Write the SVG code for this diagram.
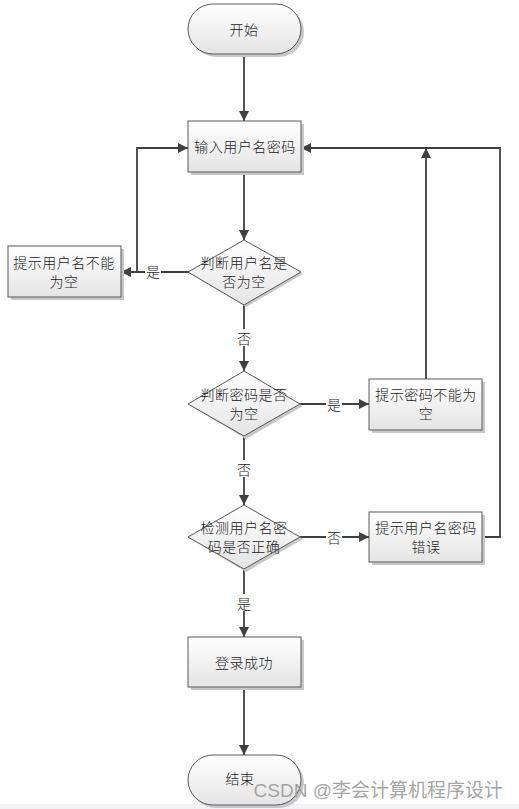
<svg xmlns="http://www.w3.org/2000/svg" width="519" height="809" viewBox="0 0 519 809">
<defs>
<linearGradient id="g" x1="0" y1="0" x2="0" y2="1">
<stop offset="0" stop-color="#ffffff"/>
<stop offset="1" stop-color="#e4e4e4"/>
</linearGradient>
<marker id="ah" viewBox="0 0 10 10" refX="10" refY="5" markerWidth="10" markerHeight="10" markerUnits="userSpaceOnUse" orient="auto">
<path d="M0,0 L10,5 L0,10 z" fill="#404040"/>
</marker>
</defs>
<style>
.shape{fill:url(#g);stroke:#5a5a5a;stroke-width:1}
.shadow{fill:#c8c8c8;stroke:none}
.t{font-family:"Noto Sans CJK SC","Liberation Sans",sans-serif;font-size:14px;font-weight:300;letter-spacing:0.5px;fill:#222;text-anchor:middle;dominant-baseline:central}
.c{fill:none;stroke:#404040;stroke-width:1.8;marker-end:url(#ah)}
.lbl{font-family:"Noto Sans CJK SC","Liberation Sans",sans-serif;font-size:14px;font-weight:300;fill:#222;text-anchor:middle;dominant-baseline:central}
.lblbg{fill:#ffffff}
</style>
<rect width="519" height="809" fill="#ffffff"/>
<rect x="0" y="804" width="519" height="5" fill="#f2f2f4"/>
<g id="connectors">
<path class="c" d="M244,54 V121"/>
<path class="c" d="M244,172 V240"/>
<path class="c" d="M188,272 H121"/>
<path class="c" d="M137,272 V148 H188"/>
<path class="c" d="M244,305 V371"/>
<path class="c" d="M300,404 H369"/>
<path class="c" d="M426,379 V148"/>
<path class="c" d="M244,436 V505"/>
<path class="c" d="M300,537 H369"/>
<path class="c" d="M482,537 H500 V148 H301"/>
<path class="c" d="M244,569 V637"/>
<path class="c" d="M244,687 V755"/>
<rect class="lblbg" x="145" y="263" width="16" height="17"/>
<text class="lbl" x="153" y="271">是</text>
<rect class="lblbg" x="236" y="329" width="16" height="17"/>
<text class="lbl" x="244" y="338">否</text>
<rect class="lblbg" x="326" y="395" width="16" height="17"/>
<text class="lbl" x="334" y="404">是</text>
<rect class="lblbg" x="236" y="460" width="16" height="17"/>
<text class="lbl" x="244" y="469">否</text>
<rect class="lblbg" x="326" y="528" width="16" height="17"/>
<text class="lbl" x="334" y="537">否</text>
<rect class="lblbg" x="236" y="594" width="16" height="17"/>
<text class="lbl" x="244" y="603">是</text>
</g>
<g id="start">
<rect class="shadow" x="191" y="7" width="113" height="50" rx="25"/>
<rect class="shape" x="188" y="4" width="113" height="50" rx="25"/>
<text class="t" x="244" y="29">开始</text>
</g>
<g id="input">
<rect class="shadow" x="191" y="124" width="113" height="51"/>
<rect class="shape" x="188" y="121" width="113" height="51"/>
<text class="t" x="245" y="146">输入用户名密码</text>
</g>
<g id="check-user">
<polygon class="shadow" points="246,243 303,274 246,307 191,274"/>
<polygon class="shape" points="244,240 301,272 244,305 188,272"/>
<text class="t" x="244" y="262">判断用户名是</text>
<text class="t" x="244" y="281">否为空</text>
</g>
<g id="user-empty">
<rect class="shadow" x="11" y="249" width="113" height="51"/>
<rect class="shape" x="8" y="246" width="113" height="51"/>
<text class="t" x="64" y="262">提示用户名不能</text>
<text class="t" x="64" y="281">为空</text>
</g>
<g id="check-pwd">
<polygon class="shadow" points="246,374 303,406 246,439 191,406"/>
<polygon class="shape" points="244,371 300,404 244,436 188,404"/>
<text class="t" x="244" y="394">判断密码是否</text>
<text class="t" x="244" y="413">为空</text>
</g>
<g id="pwd-empty">
<rect class="shadow" x="372" y="382" width="113" height="51"/>
<rect class="shape" x="369" y="379" width="113" height="51"/>
<text class="t" x="426" y="394">提示密码不能为</text>
<text class="t" x="426" y="413">空</text>
</g>
<g id="verify">
<polygon class="shadow" points="246,508 303,539 246,572 191,539"/>
<polygon class="shape" points="244,505 300,537 244,569 188,537"/>
<text class="t" x="244" y="527">检测用户名密</text>
<text class="t" x="244" y="546">码是否正确</text>
</g>
<g id="wrong">
<rect class="shadow" x="372" y="515" width="113" height="50"/>
<rect class="shape" x="369" y="512" width="113" height="50"/>
<text class="t" x="426" y="527">提示用户名密码</text>
<text class="t" x="426" y="546">错误</text>
</g>
<g id="success">
<rect class="shadow" x="191" y="640" width="113" height="50"/>
<rect class="shape" x="188" y="637" width="113" height="50"/>
<text class="t" x="244" y="662">登录成功</text>
</g>
<g id="end">
<rect class="shadow" x="191" y="758" width="113" height="50" rx="25"/>
<rect class="shape" x="188" y="755" width="113" height="50" rx="25"/>
<text class="t" x="240" y="778">结束</text>
</g>
<text x="503" y="790" font-family="'Liberation Sans','Noto Sans CJK SC',sans-serif" font-size="19" fill="#9a9a9a" fill-opacity="0.9" text-anchor="end" dominant-baseline="central">CSDN @李会计算机程序设计</text>
</svg>
